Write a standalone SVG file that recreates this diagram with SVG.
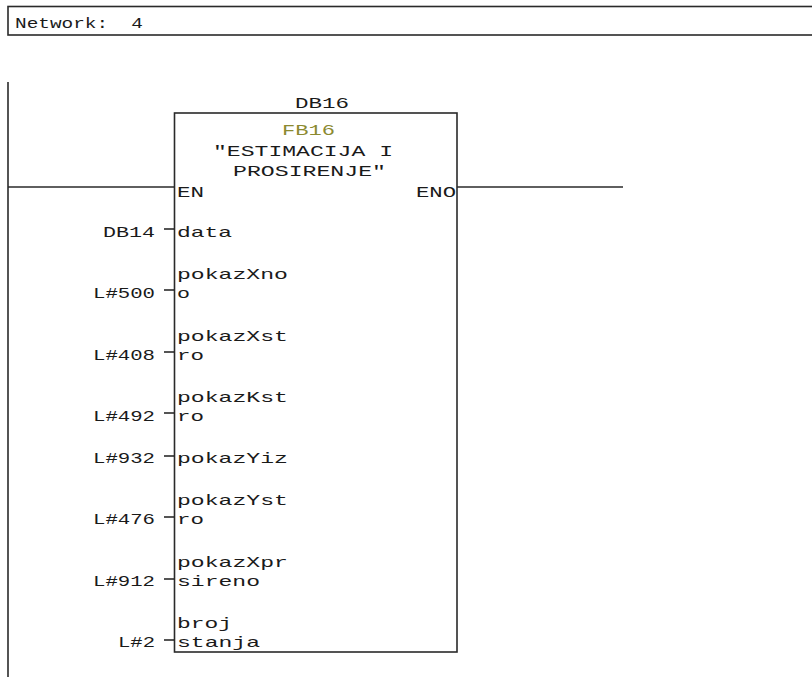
<svg xmlns="http://www.w3.org/2000/svg" width="812" height="677" viewBox="0 0 812 677">
<style>
.t{font-family:"Liberation Mono","DejaVu Sans Mono",monospace;font-size:15px;fill:#1a1a1a;}
.ln{stroke:#2a2a2a;stroke-width:1.6;fill:none;}
.fb{fill:#8c8a30;}
</style>
<rect x="0" y="0" width="812" height="677" fill="#ffffff"/>
<g id="network-header">
<rect x="8" y="6.5" width="812" height="28.5" class="ln"/>
<text class="t" x="15" y="28" xml:space="preserve" textLength="128" lengthAdjust="spacingAndGlyphs">Network:  4</text>
</g>
<g id="connectors">
<line class="ln" x1="8" y1="82" x2="8" y2="677"/>
<line class="ln" x1="8" y1="187" x2="174.5" y2="187"/>
<line class="ln" x1="457" y1="187" x2="623" y2="187"/>
<line class="ln" x1="164" y1="229" x2="174.5" y2="229"/>
<line class="ln" x1="164" y1="290" x2="174.5" y2="290"/>
<line class="ln" x1="164" y1="352" x2="174.5" y2="352"/>
<line class="ln" x1="164" y1="413" x2="174.5" y2="413"/>
<line class="ln" x1="164" y1="456" x2="174.5" y2="456"/>
<line class="ln" x1="164" y1="517" x2="174.5" y2="517"/>
<line class="ln" x1="164" y1="579" x2="174.5" y2="579"/>
<line class="ln" x1="164" y1="640" x2="174.5" y2="640"/>
</g>
<g id="fb16-block">
<text class="t" x="295" y="108" textLength="54" lengthAdjust="spacingAndGlyphs">DB16</text>
<rect x="174.5" y="113" width="282.5" height="539" class="ln"/>
<text class="t fb" x="282" y="135" textLength="53" lengthAdjust="spacingAndGlyphs">FB16</text>
<text class="t" x="213" y="156" textLength="180" lengthAdjust="spacingAndGlyphs">"ESTIMACIJA I</text>
<text class="t" x="233" y="176" textLength="153" lengthAdjust="spacingAndGlyphs">PROSIRENJE"</text>
<text class="t" x="177" y="197" textLength="27" lengthAdjust="spacingAndGlyphs">EN</text>
<text class="t" x="416" y="197" textLength="40" lengthAdjust="spacingAndGlyphs">ENO</text>
</g>
<g id="param-data">
<text class="t" x="103" y="237" textLength="52" lengthAdjust="spacingAndGlyphs">DB14</text>
<text class="t" x="177" y="237" textLength="55" lengthAdjust="spacingAndGlyphs">data</text>
</g>
<g id="param-pokazXnoo">
<text class="t" x="93" y="298" textLength="62" lengthAdjust="spacingAndGlyphs">L#500</text>
<text class="t" x="177" y="279" textLength="111" lengthAdjust="spacingAndGlyphs">pokazXno</text>
<text class="t" x="177" y="298" textLength="13" lengthAdjust="spacingAndGlyphs">o</text>
</g>
<g id="param-pokazXstro">
<text class="t" x="93" y="360" textLength="62" lengthAdjust="spacingAndGlyphs">L#408</text>
<text class="t" x="177" y="341" textLength="111" lengthAdjust="spacingAndGlyphs">pokazXst</text>
<text class="t" x="177" y="360" textLength="27" lengthAdjust="spacingAndGlyphs">ro</text>
</g>
<g id="param-pokazKstro">
<text class="t" x="93" y="421" textLength="62" lengthAdjust="spacingAndGlyphs">L#492</text>
<text class="t" x="177" y="402" textLength="111" lengthAdjust="spacingAndGlyphs">pokazKst</text>
<text class="t" x="177" y="421" textLength="27" lengthAdjust="spacingAndGlyphs">ro</text>
</g>
<g id="param-pokazYiz">
<text class="t" x="93" y="463" textLength="62" lengthAdjust="spacingAndGlyphs">L#932</text>
<text class="t" x="177" y="463" textLength="111" lengthAdjust="spacingAndGlyphs">pokazYiz</text>
</g>
<g id="param-pokazYstro">
<text class="t" x="93" y="524" textLength="62" lengthAdjust="spacingAndGlyphs">L#476</text>
<text class="t" x="177" y="505" textLength="111" lengthAdjust="spacingAndGlyphs">pokazYst</text>
<text class="t" x="177" y="524" textLength="27" lengthAdjust="spacingAndGlyphs">ro</text>
</g>
<g id="param-pokazXprsireno">
<text class="t" x="93" y="586" textLength="62" lengthAdjust="spacingAndGlyphs">L#912</text>
<text class="t" x="177" y="567" textLength="111" lengthAdjust="spacingAndGlyphs">pokazXpr</text>
<text class="t" x="177" y="586" textLength="83" lengthAdjust="spacingAndGlyphs">sireno</text>
</g>
<g id="param-brojstanja">
<text class="t" x="118" y="647" textLength="37" lengthAdjust="spacingAndGlyphs">L#2</text>
<text class="t" x="177" y="628" textLength="55" lengthAdjust="spacingAndGlyphs">broj</text>
<text class="t" x="177" y="647" textLength="83" lengthAdjust="spacingAndGlyphs">stanja</text>
</g>
</svg>
